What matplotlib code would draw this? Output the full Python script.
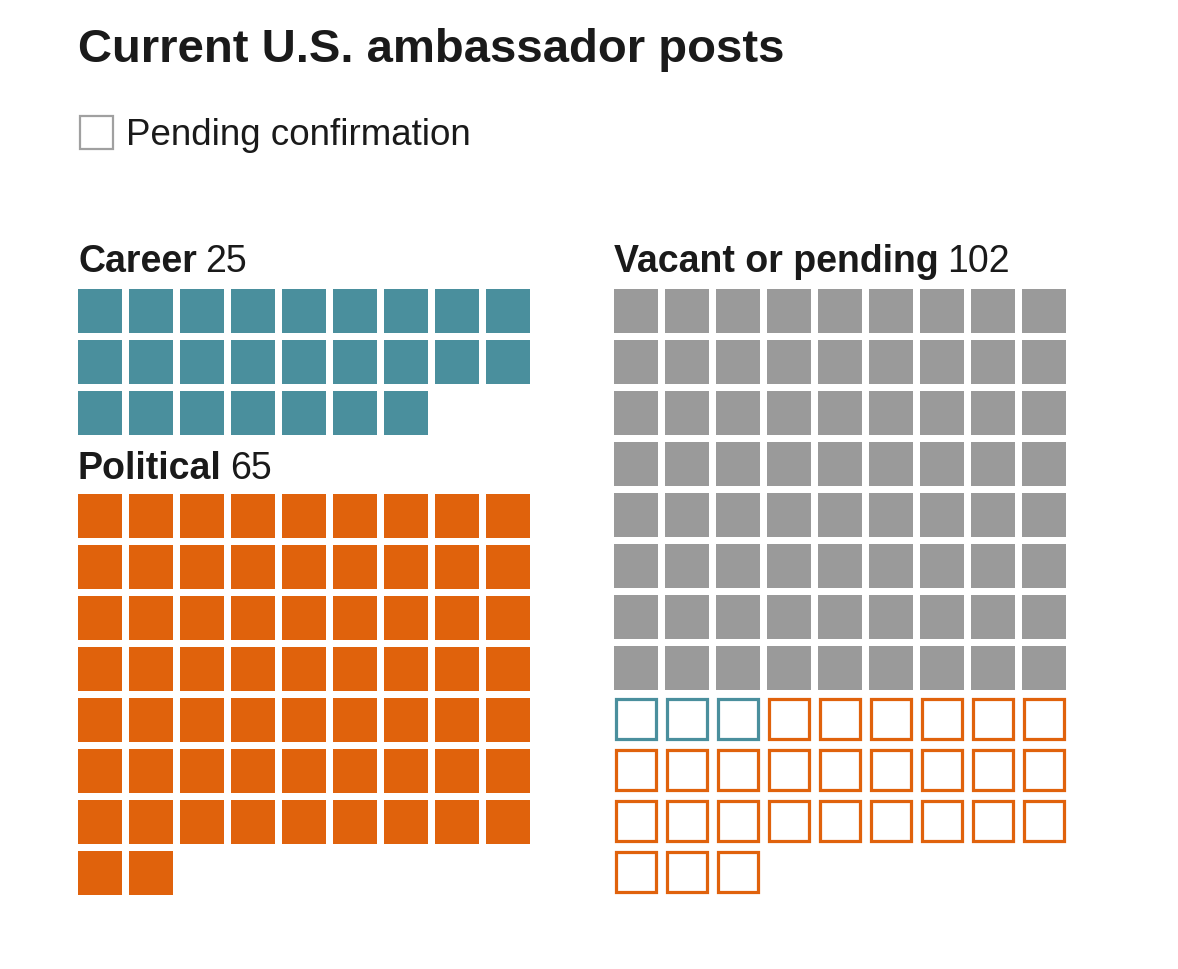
import matplotlib
matplotlib.use("Agg")
import matplotlib.pyplot as plt
from matplotlib.patches import Rectangle

# data
career = 25
political = 65
vacant = 72            # vacant, no nominee
pending_career = 3
pending_political = 27
per_row = 9

teal = '#4a8f9d'
orange = '#e0620c'
gray = '#9a9a9a'
ink = '#1a1a1a'

W, H = 1178, 970
fig = plt.figure(figsize=(W / 100, H / 100), dpi=100)
ax = fig.add_axes([0, 0, 1, 1])
ax.set_xlim(0, W)
ax.set_ylim(H, 0)
ax.axis('off')

cell = 44
pitch = 51
lw_px = 3.2


def waffle(x0, y0, colors, filled):
    for i, (c, f) in enumerate(zip(colors, filled)):
        r, k = divmod(i, per_row)
        x = x0 + k * pitch
        y = y0 + r * pitch
        if f:
            ax.add_patch(Rectangle((x, y), cell, cell, facecolor=c, edgecolor='none'))
        else:
            h = lw_px / 2
            ax.add_patch(Rectangle((x + h, y + h), cell - lw_px, cell - lw_px,
                                   facecolor='white', edgecolor=c, lw=lw_px * 0.72))


fig.canvas.draw()
rend = fig.canvas.get_renderer()


def label(x, y, bold, num):
    t = ax.text(x, y, bold, fontsize=27, fontweight='bold', color=ink,
                family='Liberation Sans', va='baseline')
    bb = t.get_window_extent(rend)
    ax.text(x + bb.width + 8, y, str(num), fontsize=27, color=ink,
            family='Liberation Sans', va='baseline')


ax.text(78, 62, 'Current U.S. ambassador posts', fontsize=34, fontweight='bold',
        color=ink, family='Liberation Sans', va='baseline')

ax.add_patch(Rectangle((80, 117), 33, 33, facecolor='white', edgecolor='#a0a0a0', lw=1.6))
ax.text(126, 145, 'Pending confirmation', fontsize=26.5, color=ink,
        family='Liberation Sans', va='baseline')

label(78, 272, 'Career', career)
waffle(78, 290, [teal] * career, [True] * career)

label(78, 479, 'Political', political)
waffle(78, 495, [orange] * political, [True] * political)

label(614, 272, 'Vacant or pending', vacant + pending_career + pending_political)
cols = [gray] * vacant + [teal] * pending_career + [orange] * pending_political
fill = [True] * vacant + [False] * (pending_career + pending_political)
waffle(614, 290, cols, fill)

fig.savefig('out.png', dpi=100, facecolor='white')
